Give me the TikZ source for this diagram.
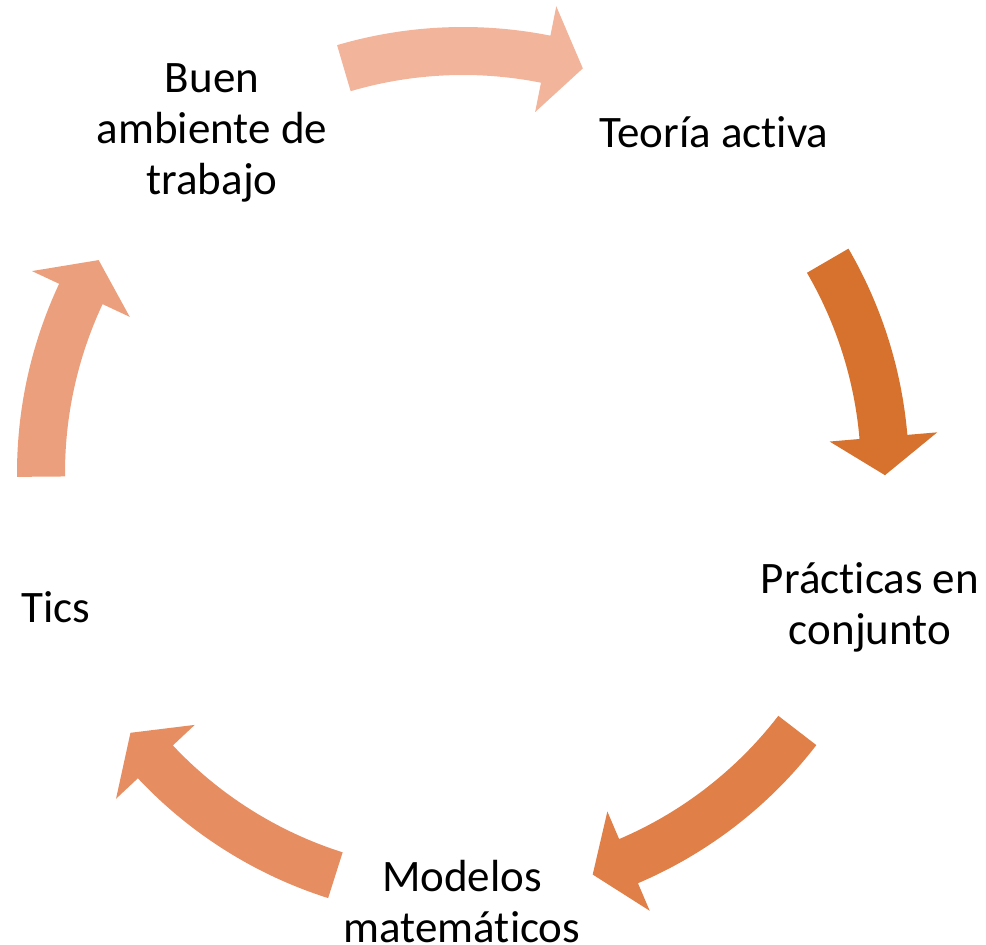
\documentclass[tikz,border=0pt]{standalone}
\usepackage{fontspec}
\setmainfont{Carlito}[Ligatures=NoCommon]
\definecolor{arrowA}{RGB}{243,180,156}
\definecolor{arrowB}{RGB}{214,114,45}
\definecolor{arrowC}{RGB}{224,128,72}
\definecolor{arrowD}{RGB}{230,142,98}
\definecolor{arrowE}{RGB}{236,159,124}
% curved arrow: start angle, tip angle, colour
\newcommand{\cyclearrow}[3]{%
  \fill[#3] (#1:446) arc[start angle=#1, end angle=#2+5.2, radius=446]
    -- (#2+5.2:476) -- (#2:422) -- (#2+5.2:368) -- (#2+5.2:398)
    arc[start angle=#2+5.2, end angle=#1, radius=398] -- cycle;}

\begin{document}
\begin{tikzpicture}[x=0.5pt, y=0.5pt,
    step label/.style={align=center, font=\fontsize{22.5}{25.5}\selectfont}]
    \useasboundingbox (-463,-472) rectangle (523,473);
    \cyclearrow{106.4}{73.5}{arrowA}
    \cyclearrow{30.2}{-0.3}{arrowB}
    \cyclearrow{-37.6}{-72.1}{arrowC}
    \cyclearrow{-107.6}{-142}{arrowD}
    \cyclearrow{180.5}{149.7}{arrowE}
    \node[step label] (teoria) at (251,341) {Teoría activa};
    \node[step label] (practicas) at (407,-134) {Prácticas en\\conjunto};
    \node[step label] (modelos) at (-1,-429) {Modelos\\matemáticos};
    \node[step label] (tics) at (-407,-134) {Tics};
    \node[step label] (ambiente) at (-251,340) {Buen\\ambiente de\\trabajo};
\end{tikzpicture}
\end{document}
